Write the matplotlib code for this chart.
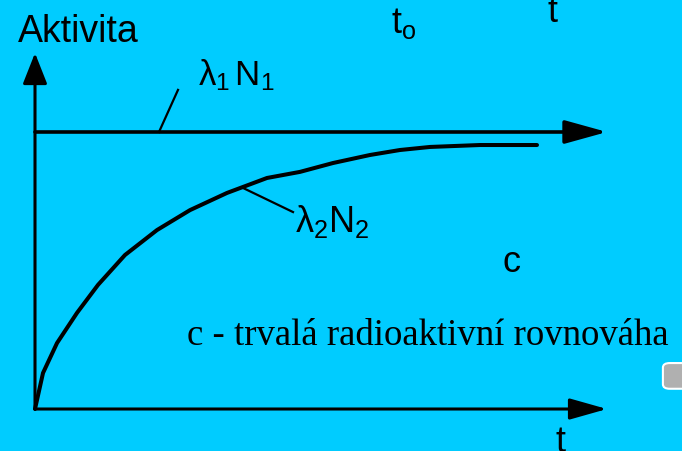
import matplotlib
matplotlib.use("Agg")
import matplotlib.pyplot as plt
from matplotlib.patches import FancyBboxPatch

plt.rcParams['mathtext.fontset'] = 'custom'
plt.rcParams['mathtext.rm'] = 'Liberation Sans'
plt.rcParams['mathtext.it'] = 'Liberation Sans'
plt.rcParams['mathtext.bf'] = 'Liberation Sans:bold'

# ---- data (time in arbitrary units, activity relative to lambda1*N1) ----
time = [0.0, 0.16, 0.44, 0.84, 1.26, 1.80, 2.44, 3.10, 3.84, 4.64,
        5.30, 5.96, 6.70, 7.30, 7.90, 8.90, 10.04]
activity2 = [0.0, 0.130, 0.238, 0.347, 0.448, 0.556, 0.646, 0.718, 0.780,
             0.834, 0.856, 0.888, 0.917, 0.935, 0.946, 0.953, 0.953]
parent_level = 1.0
t_axis_end = 11.44
a_axis_end = 1.285

ylabel_text = "Aktivita"
label1 = r"$\lambda_1\,\mathrm{N}_1$"
label2 = r"$\lambda_2\mathrm{N}_2$"
note_text = "c - trvalá radioaktivní rovnováha"

BG = '#00ccff'

fig = plt.figure(figsize=(6.82, 4.51), dpi=100, facecolor=BG)
ax = fig.add_axes([0, 0, 1, 1])
ax.set_facecolor(BG)
ax.set_xlim(-0.70, 12.94)
ax.set_ylim(-0.1516, 1.4765)
ax.axis('off')

def arrow(x0, y0, x1, y1, lw, hl, hw):
    ax.annotate('', xy=(x1, y1), xytext=(x0, y0),
                arrowprops=dict(arrowstyle=f'-|>,head_length={hl},head_width={hw}',
                                mutation_scale=1, lw=lw, color='black',
                                shrinkA=0, shrinkB=0))

# axes with arrows
arrow(0, 0, 0, a_axis_end, 2.2, 19, 7.5)
arrow(0, 0, t_axis_end, 0, 2.2, 23, 6.5)
# parent activity line
arrow(0, parent_level, t_axis_end, parent_level, 2.6, 26, 7.2)

# daughter activity curve
ax.plot(time, activity2, color='black', lw=2.9, solid_capstyle='round',
        solid_joinstyle='round')

# leader lines
ax.plot([2.48, 2.86], [parent_level, 1.152], color='black', lw=1.6)
ax.plot([4.16, 5.16], [0.798, 0.711], color='black', lw=1.6)

sans = 'Liberation Sans'
ax.text(-0.34, 1.325, ylabel_text, fontsize=27, family=sans, va='baseline', ha='left')
ax.text(3.26, 1.170, label1, fontsize=25, va='baseline', ha='left')
ax.text(5.20, 0.639, label2, fontsize=26, va='baseline', ha='left')
ax.text(7.12, 1.357, r"$\mathrm{t}_\mathrm{o}$", fontsize=26, va='baseline', ha='left')
ax.text(10.24, 1.397, "t", fontsize=26, family=sans, va='baseline', ha='left')
ax.text(10.40, -0.155, "t", fontsize=26, family=sans, va='baseline', ha='left')
ax.text(9.36, 0.495, "c", fontsize=26, family=sans, va='baseline', ha='left')
ax.text(3.04, 0.231, note_text, fontsize=26.5, family='Liberation Serif',
        va='baseline', ha='left')

# small grey button at right edge
btn = FancyBboxPatch((0.972, 0.138), 0.06, 0.057, transform=ax.transAxes,
                     boxstyle='round,pad=0,rounding_size=0.01',
                     facecolor='#b0b0b0', edgecolor='white', lw=1.5, clip_on=False)
ax.add_patch(btn)

fig.savefig('out.png', dpi=100, facecolor=BG)
